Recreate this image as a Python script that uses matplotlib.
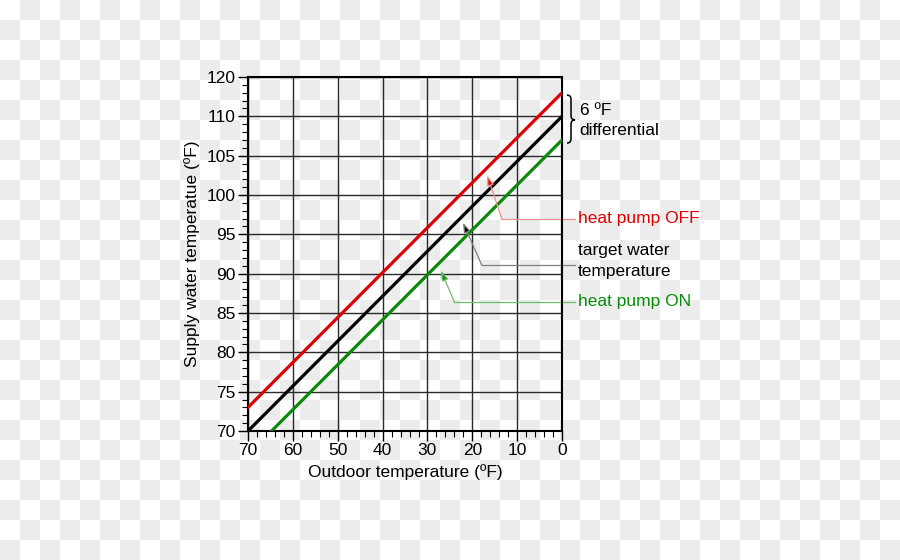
import numpy as np
import matplotlib
matplotlib.use('Agg')
import matplotlib.pyplot as plt
from matplotlib.path import Path
from matplotlib.patches import PathPatch
from matplotlib.ticker import MultipleLocator

plt.rcParams['font.family'] = ['Liberation Sans', 'DejaVu Sans']

# data
outdoor = [70, 0]
target = [70, 110]
pump_off = [73, 113]
pump_on = [67, 107]
y_tick_pos = [70, 75, 80, 85, 90, 95, 100, 105, 110, 115]
y_tick_labels = ['70', '75', '80', '85', '90', '95', '100', '105', '110', '120']
x_ticks = [70, 60, 50, 40, 30, 20, 10, 0]

RED = '#e00000'
GREEN = '#0a8a0a'

fig = plt.figure(figsize=(9, 5.6), dpi=100)

# transparency checkerboard behind everything
rows, cols = 28, 45
checker = np.where((np.add.outer(np.arange(rows), np.arange(cols)) % 2) == 0, 255, 236)
bg = fig.add_axes([0, 0, 1, 1], zorder=-1)
bg.imshow(checker, cmap='gray', vmin=0, vmax=255, interpolation='nearest', aspect='auto')
bg.axis('off')

ax = fig.add_axes([0.2756, 0.2304, 0.3489, 0.6321])
ax.set_facecolor('none')
ax.set_xlim(70, 0)
ax.set_ylim(70, 115)
ax.set_xticks(x_ticks)
ax.set_yticks(y_tick_pos)
ax.set_yticklabels(y_tick_labels)
ax.xaxis.set_minor_locator(MultipleLocator(2))
ax.yaxis.set_minor_locator(MultipleLocator(1))
ax.tick_params(which='major', length=7, width=1, labelsize=12.5, pad=2)
ax.tick_params(which='minor', length=4, width=0.8)
ax.grid(which='major', color='#2a2a2a', lw=1)
for s in ax.spines.values():
    s.set_linewidth(1.5)

ax.plot(outdoor, pump_off, color=RED, lw=2.3, zorder=3)
ax.plot(outdoor, target, color='black', lw=2.3, zorder=3)
ax.plot(outdoor, pump_on, color=GREEN, lw=2.3, zorder=3)

ax.set_xlabel('Outdoor temperature (ºF)', fontsize=12.5, labelpad=4)
ax.set_ylabel('Supply water temperatue (ºF)', fontsize=12.5)
ax.yaxis.set_label_coords(-0.152, 0.5)

# callouts: text, elbow, arrow tip
callouts = [
    ('heat pump OFF', RED, '#f29090', (13.4, 96.95), (16.7, 102.5), 96.95, 96.95),
    ('target water\ntemperature', 'black', '#808080', (17.9, 91.1), (22.1, 96.5), 91.1, 91.6),
    ('heat pump ON', GREEN, '#6cc06c', (24.0, 86.4), (27.0, 90.4), 86.4, 86.5),
]
for label, c, lc, elbow, tip, yline, ytext in callouts:
    ax.plot([-2.9, elbow[0]], [yline, elbow[1]], color=lc, lw=0.9, clip_on=False)
    ax.annotate('', xy=tip, xytext=elbow, annotation_clip=False,
                arrowprops=dict(arrowstyle='-|>,head_length=0.6,head_width=0.2',
                                fc=c, ec=lc, lw=0.9, shrinkA=0, shrinkB=0,
                                mutation_scale=10))
    ax.text(-3.6, ytext, label, color=c, fontsize=12.5, va='center', ha='left',
            linespacing=1.45, clip_on=False)

# brace for the differential
xl, xc, xr = -1.1, -2.0, -2.9
yt, ym, yb = 112.7, 109.55, 106.6
h = 0.55
verts = [(xl, yt), (xc, yt), (xc, yt - h), (xc, ym + h), (xc, ym), (xr, ym),
         (xc, ym), (xc, ym - h), (xc, yb + h), (xc, yb), (xl, yb)]
codes = [Path.MOVETO, Path.CURVE3, Path.CURVE3, Path.LINETO, Path.CURVE3, Path.CURVE3,
         Path.CURVE3, Path.CURVE3, Path.LINETO, Path.CURVE3, Path.CURVE3]
ax.add_patch(PathPatch(Path(verts, codes), fill=False, lw=1.1, ec='black', clip_on=False))
ax.text(-3.9, 109.5, '6 ºF\ndifferential', fontsize=12.5, va='center', ha='left',
        linespacing=1.45, clip_on=False)

fig.savefig('out.png', dpi=100)
